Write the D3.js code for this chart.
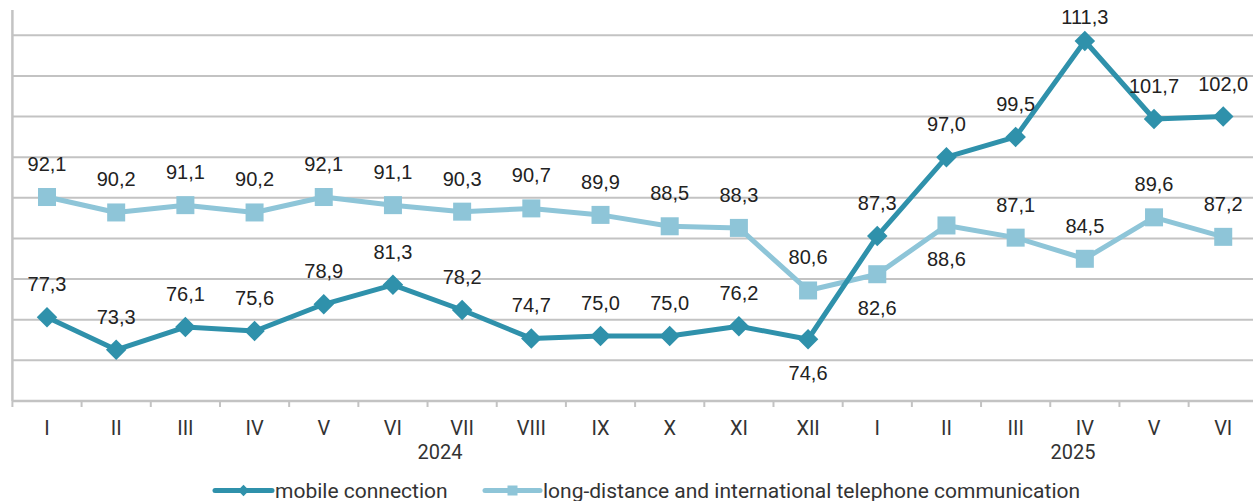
<!DOCTYPE html>
<html>
<head>
<meta charset="utf-8">
<script src="https://cdn.jsdelivr.net/npm/d3@7/dist/d3.min.js"></script>
<style>
  html, body { margin: 0; padding: 0; background: #fff; }
  svg { display: block; }
</style>
</head>
<body>
<svg id="chart" width="1253" height="501"></svg>
<script>
// ---- data ----
const months = ["I","II","III","IV","V","VI","VII","VIII","IX","X","XI","XII","I","II","III","IV","V","VI"];
const years = ["2024", "2025"];
const mobile = [77.3, 73.3, 76.1, 75.6, 78.9, 81.3, 78.2, 74.7, 75.0, 75.0, 76.2, 74.6, 87.3, 97.0, 99.5, 111.3, 101.7, 102.0];
const longDistance = [92.1, 90.2, 91.1, 90.2, 92.1, 91.1, 90.3, 90.7, 89.9, 88.5, 88.3, 80.6, 82.6, 88.6, 87.1, 84.5, 89.6, 87.2];
const seriesNames = ["mobile connection", "long-distance and international telephone communication"];
const gridValues = [72, 77, 82, 87, 92, 97, 102, 107, 112];

// ---- layout ----
const W = 1253, H = 501;
const left = 12.4, step = 69.19;
const svg = d3.select("#chart");
const x = d3.scaleBand().domain(d3.range(months.length)).range([left, left + step * months.length]).padding(0);
const cx = i => x(i) + x.bandwidth() / 2;
const y = d3.scaleLinear().domain([67, 112]).range([401, 35.3]);

const darkC = "#2f91ab";
const lightC = "#8ec5d8";
const gridC = "#c3c3c3";
const textC = "#222";

// gridlines
svg.append("g").selectAll("line").data(gridValues).join("line")
  .attr("x1", left).attr("x2", W)
  .attr("y1", d => y(d)).attr("y2", d => y(d))
  .attr("stroke", gridC).attr("stroke-width", 2);

// y axis line
svg.append("line").attr("x1", left).attr("x2", left).attr("y1", 10).attr("y2", y(67))
  .attr("stroke", gridC).attr("stroke-width", 2.5);

// x axis
const xAxis = d3.axisBottom(x).tickSize(0).tickFormat(i => months[i]);
const gx = svg.append("g").attr("transform", `translate(0,${y(67)})`).call(xAxis);
gx.select(".domain").attr("stroke", gridC).attr("stroke-width", 2.5).attr("d", `M${left},0H${W}`);
gx.selectAll(".tick text").attr("font-family", "Roboto, sans-serif").attr("font-size", 20)
  .attr("fill", "#333").attr("dy", null).attr("y", 27).attr("dominant-baseline", "central");
// boundary tick marks
svg.append("g").selectAll("line").data(d3.range(months.length + 1)).join("line")
  .attr("x1", i => left + i * step).attr("x2", i => left + i * step)
  .attr("y1", y(67)).attr("y2", y(67) + 6)
  .attr("stroke", gridC).attr("stroke-width", 2);

// year labels
const yearX = [cx(5) + 0.68 * step, cx(14) + 0.83 * step];
svg.append("g").selectAll("text").data(years).join("text")
  .attr("x", (d, i) => yearX[i]).attr("y", 452)
  .attr("text-anchor", "middle").attr("dominant-baseline", "central")
  .attr("font-family", "Roboto, sans-serif").attr("font-size", 20).attr("fill", "#333")
  .text(d => d);

// lines
const line = d3.line().x((d, i) => cx(i)).y(d => y(d));
svg.append("path").datum(longDistance).attr("d", line)
  .attr("fill", "none").attr("stroke", lightC).attr("stroke-width", 5).attr("stroke-linejoin", "round");
svg.append("path").datum(mobile).attr("d", line)
  .attr("fill", "none").attr("stroke", darkC).attr("stroke-width", 5).attr("stroke-linejoin", "round");

// markers
svg.append("g").selectAll("rect").data(longDistance).join("rect")
  .attr("x", (d, i) => cx(i) - 9).attr("y", d => y(d) - 9)
  .attr("width", 18).attr("height", 18).attr("fill", lightC);
const diamond = d3.symbol().type(d3.symbolSquare).size(14.5 * 14.5);
svg.append("g").selectAll("path").data(mobile).join("path")
  .attr("d", diamond)
  .attr("transform", (d, i) => `translate(${cx(i)},${y(d)}) rotate(45)`)
  .attr("fill", darkC);

// data labels
const fmt = v => v.toFixed(1).replace(".", ",");
const belowMobile = new Set([11]);
const belowLight = new Set([12, 13]);
function labelY(v, i, below, isMobile) {
  if (below) return y(v) + 34;
  if (isMobile && v > 110) return y(v) - 24;
  return y(v) - 33;
}
const lblFont = "'Liberation Sans', Arial, sans-serif";
svg.append("g").selectAll("text").data(longDistance).join("text")
  .attr("x", (d, i) => cx(i)).attr("y", (d, i) => labelY(d, i, belowLight.has(i), false))
  .attr("text-anchor", "middle").attr("dominant-baseline", "central")
  .attr("font-family", lblFont).attr("font-size", 20).attr("fill", textC)
  .text(d => fmt(d));
svg.append("g").selectAll("text").data(mobile).join("text")
  .attr("x", (d, i) => cx(i)).attr("y", (d, i) => labelY(d, i, belowMobile.has(i), true))
  .attr("text-anchor", "middle").attr("dominant-baseline", "central")
  .attr("font-family", lblFont).attr("font-size", 20).attr("fill", textC)
  .text(d => fmt(d));

// legend
const legY = 490.5;
const leg = svg.append("g");
const legItems = [
  { name: seriesNames[0], color: darkC, x0: 215, x1: 272, tx: 275, marker: "diamond" },
  { name: seriesNames[1], color: lightC, x0: 485, x1: 540, tx: 543, marker: "square" }
];
legItems.forEach(it => {
  leg.append("line").attr("x1", it.x0).attr("x2", it.x1).attr("y1", legY).attr("y2", legY)
    .attr("stroke", it.color).attr("stroke-width", 5).attr("stroke-linecap", "round");
  const mx = (it.x0 + it.x1) / 2;
  if (it.marker === "diamond") {
    leg.append("path").attr("d", d3.symbol().type(d3.symbolSquare).size(64)())
      .attr("transform", `translate(${mx},${legY}) rotate(45)`).attr("fill", it.color);
  } else {
    leg.append("rect").attr("x", mx - 5).attr("y", legY - 5).attr("width", 10).attr("height", 10).attr("fill", it.color);
  }
  leg.append("text").attr("x", it.tx).attr("y", legY).attr("dominant-baseline", "central")
    .attr("font-family", "Roboto, sans-serif").attr("font-size", 21).attr("fill", "#333")
    .text(it.name);
});
</script>
</body>
</html>
